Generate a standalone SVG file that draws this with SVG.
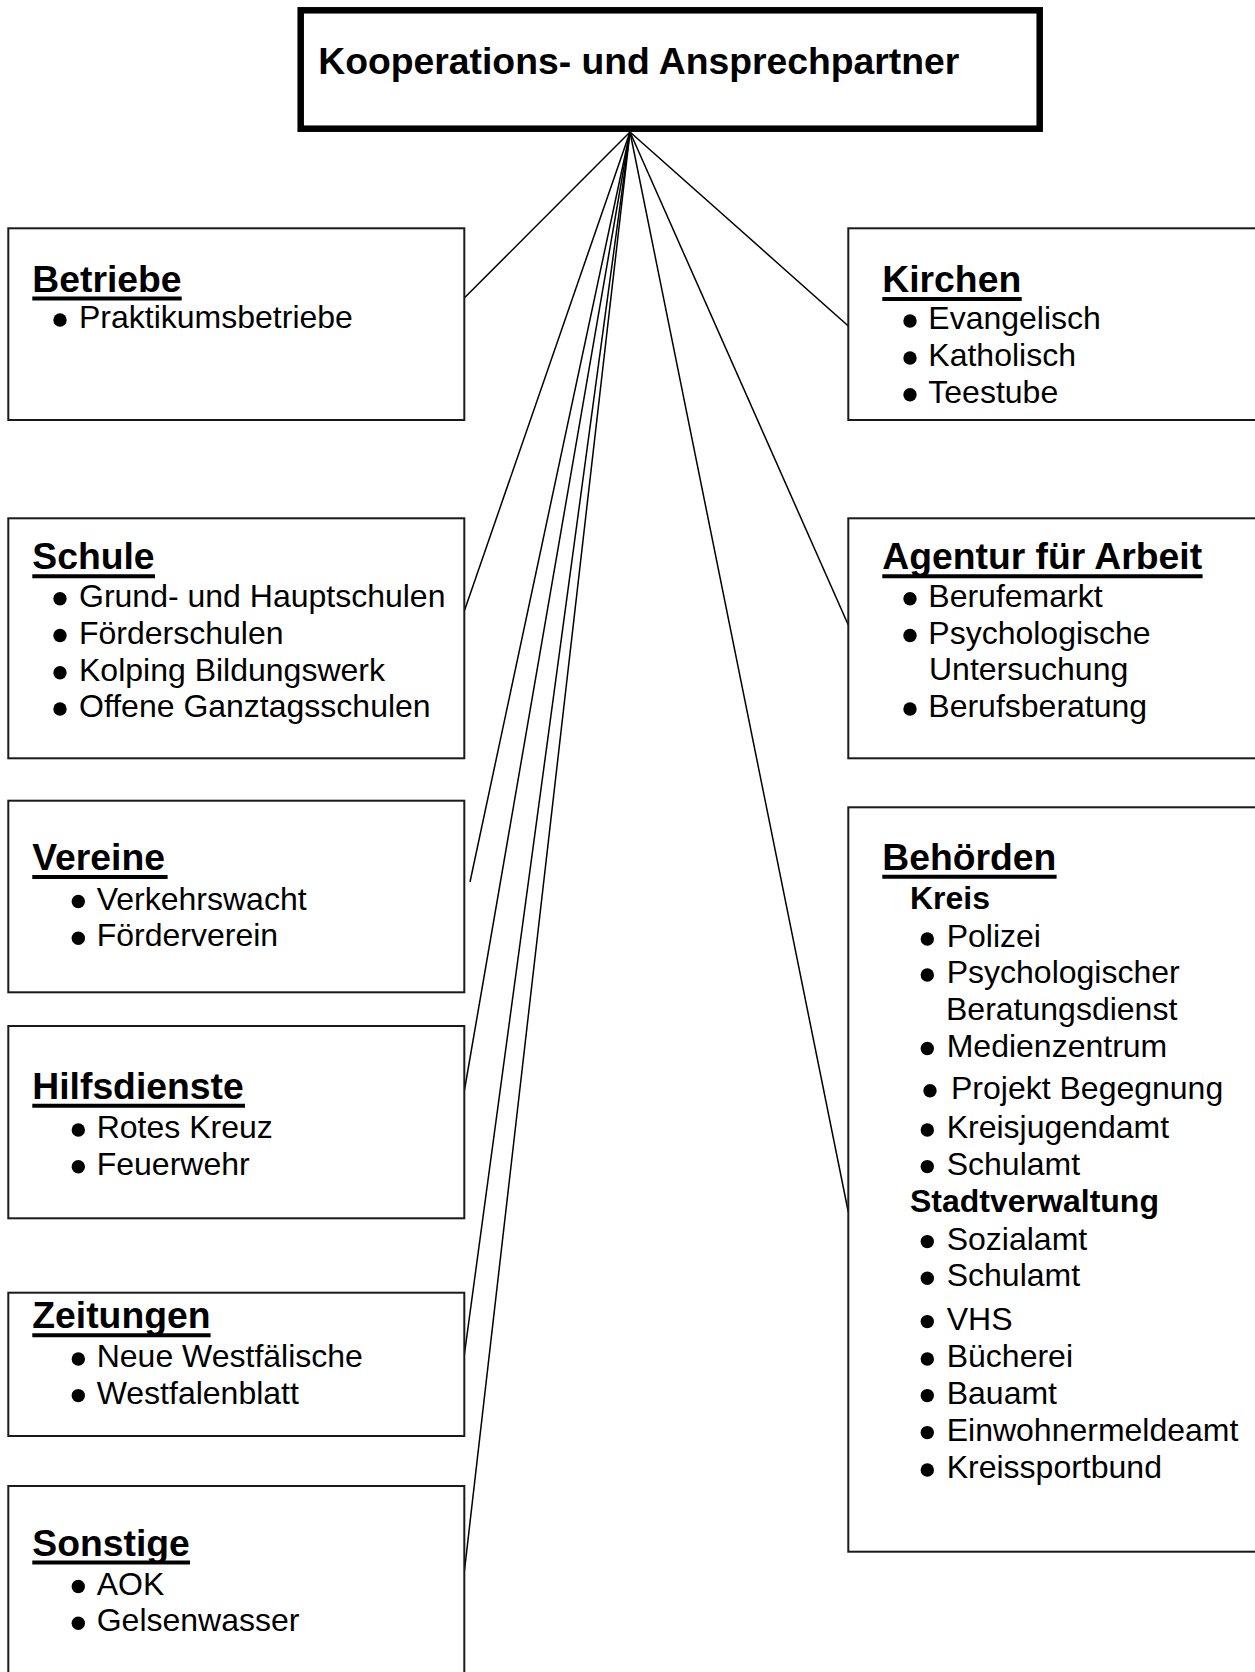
<svg xmlns="http://www.w3.org/2000/svg" width="1255" height="1672" viewBox="0 0 1255 1672">
<style>
.box{fill:#fff;stroke:#1a1a1a;stroke-width:2}
.main{fill:#fff;stroke:#000;stroke-width:6.5}
.title{font-family:"Liberation Sans",Arial,sans-serif;font-weight:bold;font-size:37.3px;fill:#000}
.h{font-family:"Liberation Sans",Arial,sans-serif;font-weight:bold;font-size:37.3px;fill:#000}
.sub{font-family:"Liberation Sans",Arial,sans-serif;font-weight:bold;font-size:32px;fill:#000}
.it{font-family:"Liberation Sans",Arial,sans-serif;font-size:32px;fill:#000}
.b{fill:#000}
.ul{stroke:#000;stroke-width:4}
.con line{stroke:#000;stroke-width:1.5}
</style>
<rect width="1255" height="1672" fill="#fff"/>
<g id="connectors" class="con">
<line x1="630" y1="132" x2="464.3" y2="298"/>
<line x1="630" y1="132" x2="848.3" y2="326"/>
<line x1="630" y1="132" x2="464.3" y2="611"/>
<line x1="630" y1="132" x2="470" y2="882"/>
<line x1="630" y1="132" x2="464.3" y2="1091"/>
<line x1="630" y1="132" x2="464.3" y2="1355"/>
<line x1="630" y1="132" x2="464.3" y2="1572"/>
<line x1="630" y1="132" x2="848.3" y2="625"/>
<line x1="630" y1="132" x2="848.3" y2="1212"/>
</g>
<g id="main">
<rect class="main" x="300.7" y="10.3" width="739" height="118.4"/>
<text class="title" x="318.3" y="74">Kooperations- und Ansprechpartner</text>
</g>
<g id="betriebe">
<rect class="box" x="8.3" y="228.3" width="456" height="191.7"/>
<text class="h" x="32.3" y="291.5">Betriebe</text>
<line class="ul" x1="32.3" y1="298.5" x2="181.7" y2="298.5"/>
<circle class="b" cx="60" cy="320" r="6.7"/><text class="it" x="79" y="328">Praktikumsbetriebe</text>
</g>
<g id="kirchen">
<rect class="box" x="848.3" y="228.3" width="460" height="191.7"/>
<text class="h" x="882.3" y="292">Kirchen</text>
<line class="ul" x1="882.3" y1="299" x2="1021.7" y2="299"/>
<circle class="b" cx="910" cy="321" r="6.7"/><text class="it" x="928.3" y="329">Evangelisch</text>
<circle class="b" cx="910" cy="358" r="6.7"/><text class="it" x="928.3" y="366">Katholisch</text>
<circle class="b" cx="910" cy="394.7" r="6.7"/><text class="it" x="928.3" y="402.7">Teestube</text>
</g>
<g id="schule">
<rect class="box" x="8.3" y="518.3" width="456" height="240"/>
<text class="h" x="32.3" y="569.3">Schule</text>
<line class="ul" x1="32.3" y1="576.3" x2="155" y2="576.3"/>
<circle class="b" cx="60" cy="598.7" r="6.7"/><text class="it" x="79" y="606.7">Grund- und Hauptschulen</text>
<circle class="b" cx="60" cy="635.5" r="6.7"/><text class="it" x="79" y="643.5">Förderschulen</text>
<circle class="b" cx="60" cy="672.8" r="6.7"/><text class="it" x="79" y="680.8">Kolping Bildungswerk</text>
<circle class="b" cx="60" cy="709" r="6.7"/><text class="it" x="79" y="717">Offene Ganztagsschulen</text>
</g>
<g id="agentur">
<rect class="box" x="848.3" y="518.3" width="460" height="240"/>
<text class="h" x="882.3" y="569.3">Agentur für Arbeit</text>
<line class="ul" x1="882.3" y1="576.3" x2="1202.6" y2="576.3"/>
<circle class="b" cx="910" cy="598.7" r="6.7"/><text class="it" x="928.3" y="606.7">Berufemarkt</text>
<circle class="b" cx="910" cy="635.5" r="6.7"/><text class="it" x="928.3" y="643.5">Psychologische</text>
<text class="it" x="929" y="680.3">Untersuchung</text>
<circle class="b" cx="910" cy="709" r="6.7"/><text class="it" x="928.3" y="717">Berufsberatung</text>
</g>
<g id="vereine">
<rect class="box" x="8.3" y="800.7" width="456" height="191.6"/>
<text class="h" x="32.3" y="870">Vereine</text>
<line class="ul" x1="32.3" y1="877" x2="167.6" y2="877"/>
<circle class="b" cx="78.3" cy="901.5" r="6.7"/><text class="it" x="96.7" y="909.5">Verkehrswacht</text>
<circle class="b" cx="78.3" cy="938.3" r="6.7"/><text class="it" x="96.7" y="946.3">Förderverein</text>
</g>
<g id="hilfsdienste">
<rect class="box" x="8.3" y="1026" width="456" height="192.3"/>
<text class="h" x="32.3" y="1098.8">Hilfsdienste</text>
<line class="ul" x1="32.3" y1="1105.8" x2="245" y2="1105.8"/>
<circle class="b" cx="78.3" cy="1130" r="6.7"/><text class="it" x="96.7" y="1138">Rotes Kreuz</text>
<circle class="b" cx="78.3" cy="1166.8" r="6.7"/><text class="it" x="96.7" y="1174.8">Feuerwehr</text>
</g>
<g id="zeitungen">
<rect class="box" x="8.3" y="1292.7" width="456" height="143.3"/>
<text class="h" x="32.3" y="1328.3">Zeitungen</text>
<line class="ul" x1="32.3" y1="1335.3" x2="210.6" y2="1335.3"/>
<circle class="b" cx="78.3" cy="1359" r="6.7"/><text class="it" x="96.7" y="1367">Neue Westfälische</text>
<circle class="b" cx="78.3" cy="1395.6" r="6.7"/><text class="it" x="96.7" y="1403.6">Westfalenblatt</text>
</g>
<g id="sonstige">
<rect class="box" x="8.3" y="1486" width="456" height="300"/>
<text class="h" x="32.3" y="1555.5">Sonstige</text>
<line class="ul" x1="32.3" y1="1562.5" x2="190" y2="1562.5"/>
<circle class="b" cx="78.3" cy="1586.5" r="6.7"/><text class="it" x="96.7" y="1594.5">AOK</text>
<circle class="b" cx="78.3" cy="1623.3" r="6.7"/><text class="it" x="96.7" y="1631.3">Gelsenwasser</text>
</g>
<g id="behoerden">
<rect class="box" x="848.3" y="807.3" width="460" height="744.4"/>
<text class="h" x="882.3" y="869.7">Behörden</text>
<line class="ul" x1="882.3" y1="876.7" x2="1056.6" y2="876.7"/>
<text class="sub" x="910" y="909.3">Kreis</text>
<circle class="b" cx="927.3" cy="939" r="6.7"/><text class="it" x="946.7" y="947">Polizei</text>
<circle class="b" cx="927.3" cy="975" r="6.7"/><text class="it" x="946.7" y="983">Psychologischer</text>
<text class="it" x="946" y="1019.6">Beratungsdienst</text>
<circle class="b" cx="927.3" cy="1048.5" r="6.7"/><text class="it" x="946.7" y="1056.5">Medienzentrum</text>
<circle class="b" cx="930" cy="1090.7" r="6.7"/><text class="it" x="951" y="1098.7">Projekt Begegnung</text>
<circle class="b" cx="927.3" cy="1130" r="6.7"/><text class="it" x="946.7" y="1138">Kreisjugendamt</text>
<circle class="b" cx="927.3" cy="1166.6" r="6.7"/><text class="it" x="946.7" y="1174.6">Schulamt</text>
<text class="sub" x="910" y="1212.2">Stadtverwaltung</text>
<circle class="b" cx="927.3" cy="1241.6" r="6.7"/><text class="it" x="946.7" y="1249.6">Sozialamt</text>
<circle class="b" cx="927.3" cy="1278.3" r="6.7"/><text class="it" x="946.7" y="1286.3">Schulamt</text>
<circle class="b" cx="927.3" cy="1321.6" r="6.7"/><text class="it" x="946.7" y="1329.6">VHS</text>
<circle class="b" cx="927.3" cy="1359" r="6.7"/><text class="it" x="946.7" y="1367">Bücherei</text>
<circle class="b" cx="927.3" cy="1395.6" r="6.7"/><text class="it" x="946.7" y="1403.6">Bauamt</text>
<circle class="b" cx="927.3" cy="1432.6" r="6.7"/><text class="it" x="946.7" y="1440.6">Einwohnermeldeamt</text>
<circle class="b" cx="927.3" cy="1470" r="6.7"/><text class="it" x="946.7" y="1478">Kreissportbund</text>
</g>
</svg>
